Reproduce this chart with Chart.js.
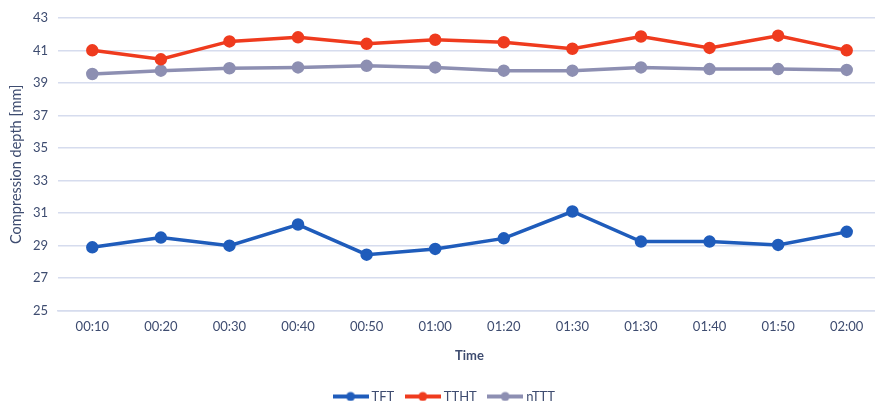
<!DOCTYPE html>
<html><head><meta charset="utf-8">
<script src="https://cdn.jsdelivr.net/npm/chart.js@4"></script>
<style>
html,body{margin:0;padding:0;background:#fff;overflow:hidden;}
#wrap{position:relative;width:889px;height:413px;}
</style></head>
<body><div id="wrap"><canvas id="c" width="889" height="413"></canvas></div>
<script>
const categories = ['00:10','00:20','00:30','00:40','00:50','01:00','01:20','01:30','01:30','01:40','01:50','02:00'];
const tftValues  = [28.9, 29.5, 29.0, 30.3, 28.45, 28.8, 29.45, 31.1, 29.25, 29.25, 29.05, 29.85];
const tthtValues = [41.0, 40.45, 41.55, 41.8, 41.4, 41.65, 41.5, 41.1, 41.85, 41.15, 41.9, 41.0];
const ntttValues = [39.55, 39.75, 39.9, 39.95, 40.05, 39.95, 39.75, 39.75, 39.95, 39.85, 39.85, 39.8];
const seriesNames = ['TFT','TTHT','nTTT'];
const yTicks = {min:25, max:43, step:2};

const colors = ['#1f5cbb','#ef3b1e','#8d8fb2'];
const textColor = '#3e4c70';
const font = "Lato, 'Open Sans', sans-serif";

function legendIcon(color){
  const cv = document.createElement('canvas');
  cv.width = 36; cv.height = 12;
  const g = cv.getContext('2d');
  g.strokeStyle = color; g.lineWidth = 4;
  g.beginPath(); g.moveTo(0,6); g.lineTo(36,6); g.stroke();
  g.fillStyle = color; g.beginPath(); g.arc(18,6,4.5,0,Math.PI*2); g.fill();
  return cv;
}

const data = [tftValues, tthtValues, ntttValues];
const datasets = data.map((d,i)=>({
  label: seriesNames[i],
  data: d,
  borderColor: colors[i],
  backgroundColor: colors[i],
  borderWidth: 3.5,
  pointRadius: 4.5,
  pointHoverRadius: 4.5,
  pointStyle: 'circle',
  tension: 0
}));

new Chart(document.getElementById('c'), {
  type: 'line',
  data: { labels: categories, datasets },
  options: {
    responsive: false,
    animation: false,
    devicePixelRatio: 1,
    layout: { padding: { top: 15, left: 2, right: 0, bottom: 0 } },
    plugins: {
      tooltip: { enabled: false },
      legend: {
        position: 'bottom',
        labels: {
          color: textColor,
          font: { family: font, size: 13 },
          usePointStyle: true,
          pointStyleWidth: 29,
          boxHeight: 12,
          padding: 14,
          generateLabels: (chart) => chart.data.datasets.map((ds,i)=>({
            text: ds.label,
            fillStyle: ds.borderColor,
            strokeStyle: ds.borderColor,
            lineWidth: 0,
            pointStyle: legendIcon(ds.borderColor),
            fontColor: textColor,
            datasetIndex: i,
            hidden: false
          }))
        }
      }
    },
    scales: {
      x: {
        offset: true,
        grid: { display: false, drawTicks: false },
        border: { display: true, color: '#d6dcee', width: 1.5 },
        ticks: { color: textColor, font: { family: font, size: 13 }, padding: 8, maxRotation: 0, autoSkip: false },
        title: { display: true, text: 'Time', color: textColor, font: { family: font, size: 13, weight: 'bold' }, padding: { top: 6, bottom: 12 } }
      },
      y: {
        min: yTicks.min, max: yTicks.max,
        ticks: { stepSize: yTicks.step, color: textColor, font: { family: font, size: 13 }, padding: 10 },
        grid: { color: '#d6dcee', lineWidth: 1.5, drawTicks: false },
        border: { display: false },
        title: { display: true, text: 'Compression depth [mm]', color: textColor, font: { family: font, size: 14.5 }, padding: { top: 6, bottom: 2 } },
        afterFit: (s) => { s.width = 56; }
      }
    }
  }
});
</script></body></html>
